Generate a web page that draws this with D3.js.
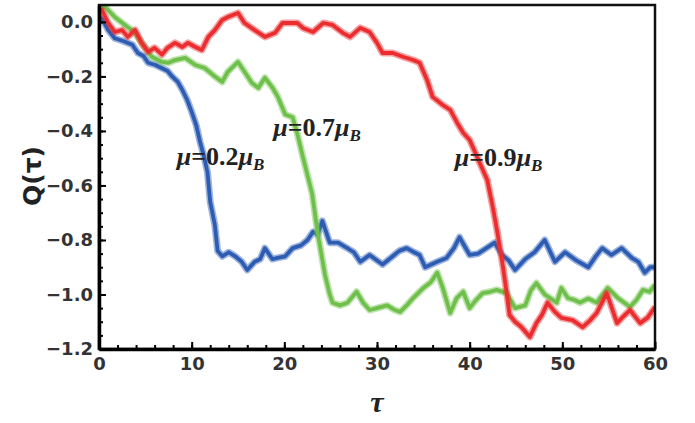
<!DOCTYPE html>
<html>
<head>
<meta charset="utf-8">
<script src="https://cdn.jsdelivr.net/npm/d3@7"></script>
<style>
  body { margin: 0; background: #fff; }
  .axis text { font-family: "DejaVu Sans", sans-serif; font-weight: bold; font-size: 18px; fill: #333; }
  .axis path, .axis line { stroke: #000; }
</style>
</head>
<body>
<svg class="chart"></svg>
<script>

// tau / Q(tau)
var tauBlue = [0, 0.4, 1.0, 1.7, 2.6, 3.6, 4.2, 4.8, 5.3, 6.1, 6.8, 7.4, 7.9, 8.5, 9.0, 9.5, 10.0, 10.5, 10.9, 11.3, 11.7, 12.0, 12.5, 12.8, 13.3, 14.0, 14.7, 15.4, 16.0, 16.8, 17.4, 17.9, 18.7, 19.4, 20.1, 20.9, 21.8, 22.5, 23.1, 23.6, 24.1, 24.9, 25.8, 26.8, 27.5, 28.2, 29.2, 30.6, 31.5, 32.4, 33.2, 34.0, 34.6, 35.2, 36.5, 37.5, 38.3, 38.9, 40.0, 40.9, 41.8, 42.7, 43.5, 44.2, 44.9, 46.0, 47.0, 48.1, 49.2, 50.3, 51.5, 52.8, 53.6, 54.3, 55.3, 56.4, 57.5, 58.2, 58.9, 59.5, 60.0];
var qBlue = [0.02, 0.007, -0.03, -0.06, -0.07, -0.084, -0.114, -0.125, -0.15, -0.158, -0.17, -0.18, -0.20, -0.22, -0.25, -0.285, -0.33, -0.38, -0.44, -0.49, -0.55, -0.66, -0.745, -0.84, -0.86, -0.845, -0.86, -0.88, -0.91, -0.88, -0.87, -0.83, -0.87, -0.865, -0.86, -0.83, -0.82, -0.80, -0.77, -0.78, -0.73, -0.81, -0.81, -0.83, -0.845, -0.88, -0.855, -0.89, -0.865, -0.84, -0.83, -0.845, -0.855, -0.90, -0.88, -0.866, -0.83, -0.79, -0.855, -0.85, -0.83, -0.81, -0.855, -0.875, -0.91, -0.87, -0.845, -0.80, -0.88, -0.845, -0.875, -0.90, -0.86, -0.83, -0.855, -0.83, -0.866, -0.88, -0.92, -0.90, -0.90];

var tauGreen = [0, 0.65, 1.7, 2.8, 3.9, 4.6, 5.7, 6.8, 7.5, 8.2, 9.3, 10.4, 11.4, 12.5, 13.3, 13.9, 15.0, 15.7, 16.5, 17.2, 17.9, 18.7, 19.3, 20.1, 20.9, 21.4, 22.0, 23.0, 23.6, 24.4, 24.9, 25.2, 26.0, 26.8, 27.8, 28.5, 29.2, 30.0, 31.1, 31.8, 32.5, 33.2, 33.9, 35.0, 35.8, 36.5, 37.1, 37.9, 38.6, 39.3, 40.0, 40.7, 41.4, 42.2, 42.9, 44.0, 44.9, 46.0, 46.6, 47.2, 48.1, 49.4, 49.9, 50.6, 51.3, 51.9, 52.8, 53.7, 54.9, 56.0, 57.3, 58.0, 58.7, 59.4, 60.0];
var qGreen = [0.05, 0.055, 0.018, -0.011, -0.04, -0.077, -0.128, -0.147, -0.15, -0.14, -0.132, -0.158, -0.169, -0.20, -0.22, -0.183, -0.147, -0.183, -0.224, -0.242, -0.205, -0.24, -0.275, -0.34, -0.35, -0.41, -0.495, -0.63, -0.775, -0.93, -1.00, -1.03, -1.04, -1.03, -0.99, -1.03, -1.057, -1.05, -1.04, -1.055, -1.064, -1.04, -1.013, -0.976, -0.955, -0.92, -0.976, -1.068, -1.013, -0.99, -1.05, -1.02, -0.995, -0.99, -0.983, -0.995, -1.05, -1.04, -0.985, -0.958, -1.00, -1.03, -0.976, -1.013, -1.02, -1.03, -1.015, -1.03, -0.976, -1.013, -1.046, -1.02, -0.983, -0.99, -0.965];

var tauRed = [0, 0.3, 1.0, 1.7, 2.5, 3.1, 3.9, 4.6, 5.3, 6.0, 6.8, 7.4, 8.2, 9.0, 9.6, 10.4, 11.1, 11.8, 12.5, 13.3, 13.9, 15.0, 15.7, 16.8, 17.9, 19.0, 19.8, 20.3, 21.4, 22.0, 23.1, 24.2, 25.2, 26.3, 27.1, 28.2, 29.2, 30.0, 30.6, 31.7, 32.8, 33.9, 34.6, 35.4, 36.0, 37.1, 37.9, 38.6, 39.3, 40.0, 40.8, 41.9, 42.5, 43.0, 43.6, 44.0, 44.3, 44.9, 45.6, 46.5, 47.2, 47.8, 48.4, 49.2, 49.9, 51.1, 52.2, 53.0, 53.7, 54.8, 55.9, 56.6, 57.3, 58.4, 59.2, 60.0];
var qRed = [0.03, 0.044, -0.004, -0.037, -0.03, -0.055, -0.03, -0.077, -0.11, -0.095, -0.12, -0.095, -0.077, -0.092, -0.077, -0.092, -0.103, -0.055, -0.03, 0.007, 0.018, 0.033, -0.004, -0.03, -0.055, -0.04, -0.004, -0.004, -0.004, -0.022, -0.037, -0.004, -0.011, -0.04, -0.055, -0.022, -0.037, -0.077, -0.114, -0.114, -0.128, -0.14, -0.15, -0.213, -0.275, -0.305, -0.323, -0.367, -0.407, -0.433, -0.495, -0.58, -0.68, -0.774, -0.90, -0.995, -1.075, -1.10, -1.12, -1.156, -1.105, -1.075, -1.03, -1.064, -1.086, -1.094, -1.12, -1.095, -1.068, -0.995, -1.105, -1.08, -1.057, -1.105, -1.085, -1.046];

var xTicks = [0, 10, 20, 30, 40, 50, 60];
var yTicks = [0, -0.2, -0.4, -0.6, -0.8, -1.0, -1.2];

// annotation text and anchor (data coords)
var muValues = ["0.2", "0.7", "0.9"];
var muTau = [8.4, 18.8, 38.4];
var muQ = [-0.525, -0.418, -0.528];

var svgWidth = 695,
    svgHeight = 423;

var margin = {top: 5, right: 40, bottom: 74, left: 99},
    width = svgWidth - margin.left - margin.right,
    height = svgHeight - margin.top - margin.bottom;

var x = d3.scaleLinear().domain([0, 60]).range([0, width]),
    y = d3.scaleLinear().domain([-1.2, 0.062]).range([height, 0]);

var chart = d3.select(".chart")
    .attr("width", svgWidth)
    .attr("height", svgHeight)
    .append("g")
      .attr("transform", "translate(" + margin.left + "," + margin.top + ")");

chart.append("defs").append("clipPath")
    .attr("id", "clip")
  .append("rect")
    .attr("width", width)
    .attr("height", height);

var line = d3.line()
    .x(function(d) { return x(d[0]); })
    .y(function(d) { return y(d[1]); });

var series = [
  {tau: tauBlue, q: qBlue, color: "#2d5cb3"},
  {tau: tauGreen, q: qGreen, color: "#6fc04b"},
  {tau: tauRed, q: qRed, color: "#ec2d2f"}
];

var lines = chart.append("g")
    .attr("clip-path", "url(#clip)")
  .selectAll(".series")
    .data(series)
  .enter().append("g")
    .attr("class", "series");

// fuzzy halo + core, the traces are very noisy
lines.append("path")
    .attr("fill", "none")
    .attr("stroke", function(d) { return d.color; })
    .attr("stroke-opacity", 0.45)
    .attr("stroke-width", 7)
    .attr("stroke-linejoin", "round")
    .attr("d", function(d) { return line(d.tau.map(function(t, i) { return [t, d.q[i]]; })); });

lines.append("path")
    .attr("fill", "none")
    .attr("stroke", function(d) { return d.color; })
    .attr("stroke-width", 3.8)
    .attr("stroke-linejoin", "round")
    .attr("d", function(d) { return line(d.tau.map(function(t, i) { return [t, d.q[i]]; })); });

// frame (top / right)
chart.append("rect")
    .attr("width", width)
    .attr("height", height)
    .attr("fill", "none")
    .attr("stroke", "#111")
    .attr("stroke-width", 2.5);

// minor ticks
chart.append("g")
    .attr("class", "axis minor")
    .call(d3.axisLeft(y).tickValues(d3.range(-1.15, 0.05, 0.05)).tickSize(-4).tickFormat(""))
    .select(".domain").remove();

chart.append("g")
    .attr("class", "axis minor")
    .attr("transform", "translate(0," + height + ")")
    .call(d3.axisBottom(x).tickValues(d3.range(2, 60, 2)).tickSize(-4).tickFormat(""))
    .select(".domain").remove();

// major axes
var yAxis = d3.axisLeft(y).tickValues(yTicks).tickSizeInner(-7).tickSizeOuter(0).tickPadding(6).tickFormat(d3.format(".1f"));
var xAxis = d3.axisBottom(x).tickValues(xTicks).tickSizeInner(-7).tickSizeOuter(0).tickPadding(8);

chart.append("g")
    .attr("class", "axis y")
    .call(yAxis);

chart.append("g")
    .attr("class", "axis x")
    .attr("transform", "translate(0," + height + ")")
    .call(xAxis);

chart.selectAll(".axis line").attr("stroke-width", 2);
chart.selectAll(".axis .domain").attr("stroke-width", 3.5);

// axis titles
chart.append("text")
    .attr("transform", "translate(-58," + 171 + ") rotate(-90)")
    .attr("text-anchor", "middle")
    .style("font-family", "DejaVu Sans, sans-serif")
    .style("font-weight", "bold")
    .style("font-size", "25px")
    .style("fill", "#222")
    .text("Q(τ)");

chart.append("text")
    .attr("x", width / 2)
    .attr("y", height + 63)
    .attr("text-anchor", "middle")
    .style("font-family", "Liberation Serif, Times New Roman, serif")
    .style("font-style", "italic")
    .style("font-weight", "bold")
    .style("font-size", "30px")
    .style("fill", "#222")
    .text("τ");

// mu annotations
var ann = chart.selectAll(".ann")
    .data(muValues)
  .enter().append("text")
    .attr("class", "ann")
    .attr("x", function(d, i) { return x(muTau[i]); })
    .attr("y", function(d, i) { return y(muQ[i]); })
    .style("font-family", "Liberation Serif, Times New Roman, serif")
    .style("font-weight", "bold")
    .style("font-size", "26px")
    .style("fill", "#222");

ann.append("tspan").style("font-style", "italic").text("μ");
ann.append("tspan").text(function(d) { return "=" + d; });
ann.append("tspan").style("font-style", "italic").text("μ");
ann.append("tspan").style("font-style", "italic").style("font-size", "17px").attr("dy", 5).text("B");

</script>
</body>
</html>
